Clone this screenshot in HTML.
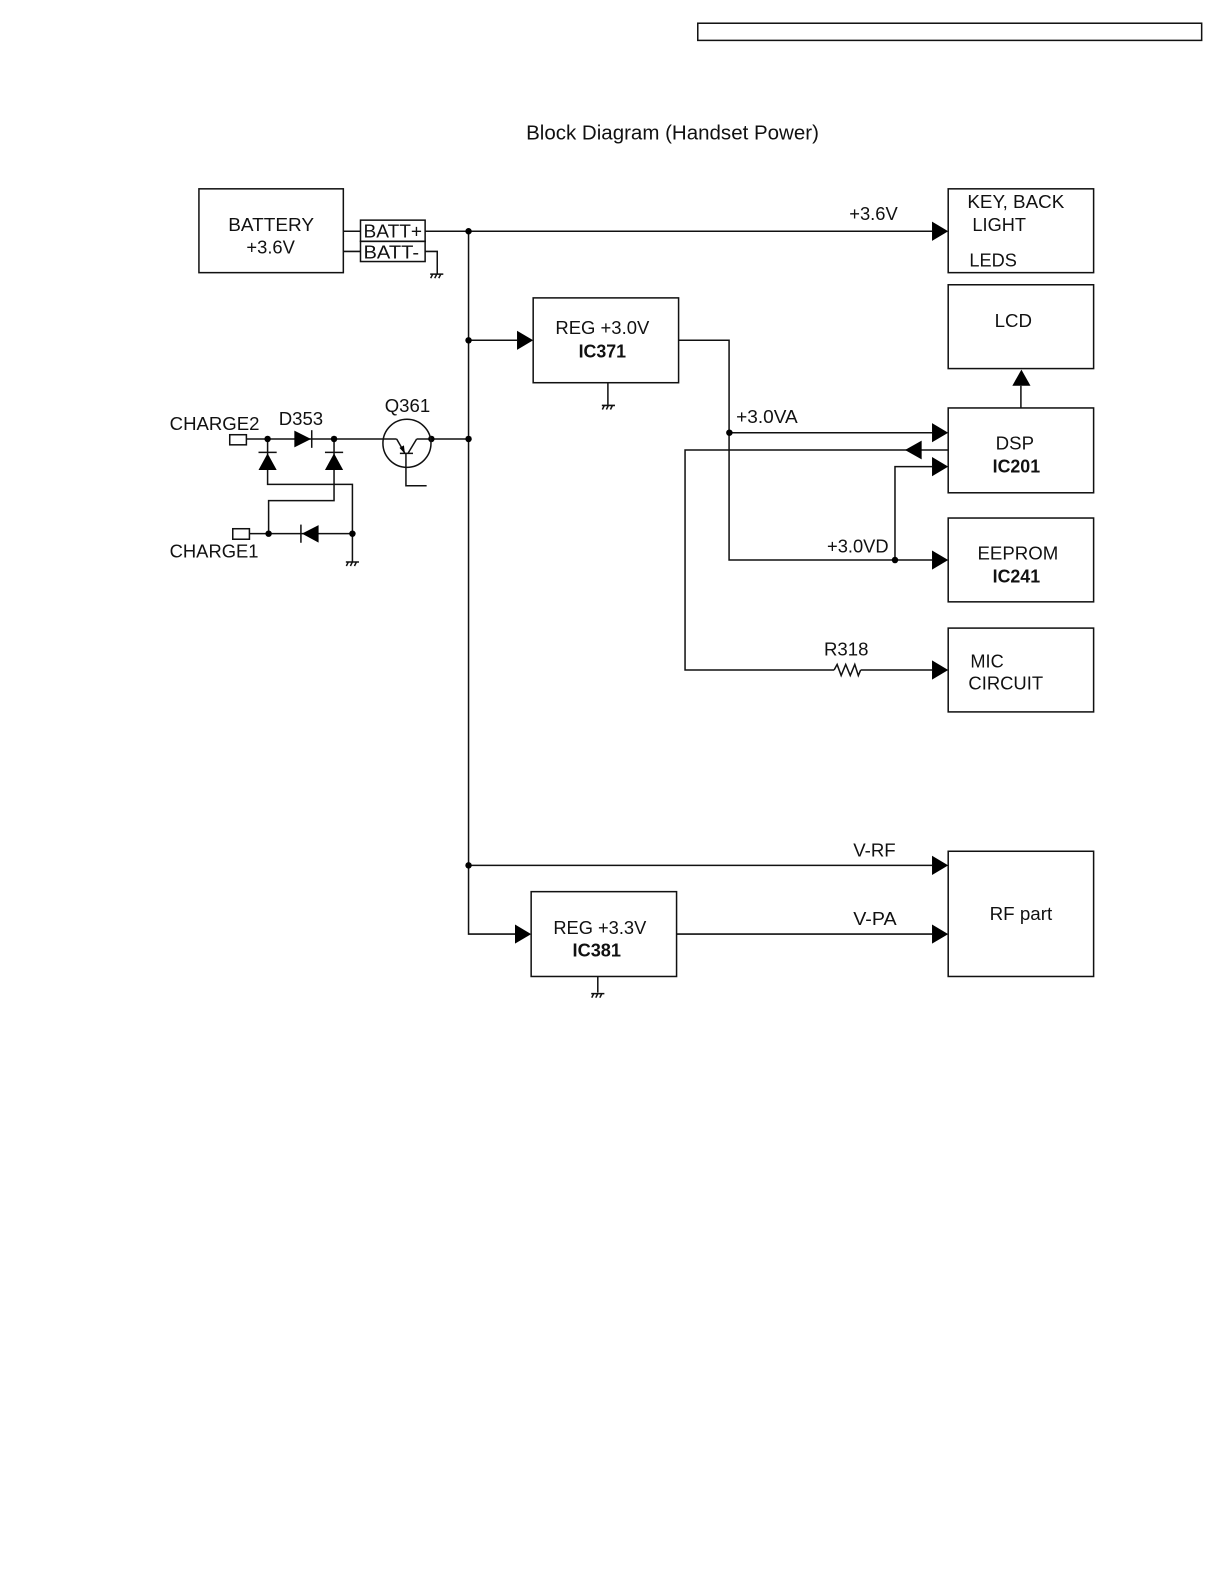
<!DOCTYPE html>
<html><head><meta charset="utf-8"><style>
html,body{margin:0;padding:0;background:#fff}
svg{display:block}
text{font-family:"Liberation Sans",Arial,sans-serif;font-size:18px;fill:#111}
.b{font-weight:bold}
.l{fill:none;stroke:#111;stroke-width:1.5}
.a{fill:#000;stroke:none}
</style></head><body>
<svg xmlns="http://www.w3.org/2000/svg" width="1224" height="1584" viewBox="0 0 1224 1584">
<defs>
<g id="g"><path class="l" d="M-6.5 0H6.5M-4 0L-6 4M0 0L-2 4M4 0L2 4"/></g>
<path id="ar" class="a" d="M-16 -9.5L0 0L-16 9.5Z"/>
<circle id="d" class="a" r="3.2"/>
</defs>
<rect width="1224" height="1584" fill="#fff"/>
<g transform="scale(1.0098)">
<rect class="l" x="691" y="23" width="499" height="17"/>
<text x="521" y="138" style="font-size:20px" textLength="290" lengthAdjust="spacingAndGlyphs">Block Diagram (Handset Power)</text>

<!-- boxes -->
<g class="l">
<rect x="197" y="187" width="143" height="83"/>
<rect x="357" y="218" width="64" height="21"/>
<rect x="357" y="239" width="64" height="20"/>
<rect x="939" y="187" width="144" height="83"/>
<rect x="939" y="282" width="144" height="83"/>
<rect x="939" y="404" width="144" height="84"/>
<rect x="939" y="513" width="144" height="83"/>
<rect x="939" y="622" width="144" height="83"/>
<rect x="939" y="843" width="144" height="124"/>
<rect x="528" y="295" width="144" height="84"/>
<rect x="526" y="883" width="144" height="84"/>
<rect x="227.5" y="430.5" width="16.5" height="10"/>
<rect x="230.5" y="523.6" width="16.5" height="10.4"/>
</g>

<!-- wires -->
<path class="l" d="M340 229H357M340 249H357M421 229H923M421 249H433V271
M464 229V925H510M464 337H512M464 857H923
M672 337H722V554.6H923M722 428.5H923M939 445.6H678.4V663.5H826M852.3 663.5H923
M886.3 554.6V462.1H923
M670 925H923
M1011 404V382
M602 379V401M592 967V983
M244 434.7H392.8M412.6 434.7H464
M265 434.7V479.7H349V556
M330.8 434.7V495.8H266V528.5
M247 528.5H349"/>
<path class="l" d="M826 663.5L829 658L833 669L837.5 658L842 669L846.5 658L850 669L852.3 663.5"/>

<!-- grounds -->
<use href="#g" x="432.5" y="271.5"/>
<use href="#g" x="602.5" y="401.5"/>
<use href="#g" x="592" y="984"/>
<use href="#g" x="349" y="556.5"/>

<!-- arrowheads -->
<use href="#ar" x="939" y="229"/>
<use href="#ar" x="528" y="337"/>
<use href="#ar" x="939" y="428.5"/>
<use href="#ar" x="939" y="462.1"/>
<use href="#ar" x="939" y="554.6"/>
<use href="#ar" x="939" y="663.5"/>
<use href="#ar" x="939" y="857"/>
<use href="#ar" x="939" y="925"/>
<use href="#ar" x="526" y="925"/>
<path class="a" d="M896.2 445.6L912.7 436.3V454.9Z"/>
<path class="a" d="M1011.5 366L1020.5 382H1002.5Z"/>

<!-- dots -->
<use href="#d" x="464" y="229"/>
<use href="#d" x="464" y="337"/>
<use href="#d" x="464" y="434.7"/>
<use href="#d" x="464" y="857"/>
<use href="#d" x="722.3" y="428.5"/>
<use href="#d" x="886.3" y="554.6"/>
<use href="#d" x="265" y="434.7"/>
<use href="#d" x="330.8" y="434.7"/>
<use href="#d" x="427.2" y="434.7"/>
<use href="#d" x="266" y="528.5"/>
<use href="#d" x="349" y="528.5"/>

<!-- diodes -->
<path class="a" d="M291.5 426.5L308 434.7L291.5 443Z"/>
<path class="l" d="M308.7 426V443.5"/>
<path class="a" d="M265 449L274 465.5H256Z"/>
<path class="l" d="M256 448H274"/>
<path class="a" d="M330.8 449L339.8 465.5H321.8Z"/>
<path class="l" d="M321.8 448H339.8"/>
<path class="a" d="M299 528.5L315.5 520V537.4Z"/>
<path class="l" d="M298 519.5V537.5"/>

<!-- transistor -->
<circle class="l" cx="403" cy="439" r="23.8"/>
<path class="l" d="M392.8 434.7L401 449M412.6 434.7L404 449M396 449H409M402 449V481H422.5"/>
<path class="a" d="M401 449.5L395.6 443.5L400 441Z"/>

<!-- labels -->
<text x="226" y="229" textLength="85" lengthAdjust="spacingAndGlyphs">BATTERY</text>
<text x="244" y="251" textLength="48" lengthAdjust="spacingAndGlyphs">+3.6V</text>
<text x="360" y="235" textLength="58" lengthAdjust="spacingAndGlyphs">BATT+</text>
<text x="360" y="256" textLength="55" lengthAdjust="spacingAndGlyphs">BATT-</text>
<text x="841" y="218" textLength="48" lengthAdjust="spacingAndGlyphs">+3.6V</text>
<text x="958" y="206" textLength="96" lengthAdjust="spacingAndGlyphs">KEY, BACK</text>
<text x="963" y="229" textLength="53" lengthAdjust="spacingAndGlyphs">LIGHT</text>
<text x="960" y="264" textLength="47" lengthAdjust="spacingAndGlyphs">LEDS</text>
<text x="985" y="324" textLength="37" lengthAdjust="spacingAndGlyphs">LCD</text>
<text x="550" y="331" textLength="93" lengthAdjust="spacingAndGlyphs">REG +3.0V</text>
<text class="b" x="573" y="354" textLength="47" lengthAdjust="spacingAndGlyphs">IC371</text>
<text x="276" y="421" textLength="44" lengthAdjust="spacingAndGlyphs">D353</text>
<text x="381" y="408" textLength="45" lengthAdjust="spacingAndGlyphs">Q361</text>
<text x="168" y="426" textLength="89" lengthAdjust="spacingAndGlyphs">CHARGE2</text>
<text x="168" y="552" textLength="88" lengthAdjust="spacingAndGlyphs">CHARGE1</text>
<text x="729" y="419" textLength="61" lengthAdjust="spacingAndGlyphs">+3.0VA</text>
<text x="986" y="445" textLength="38" lengthAdjust="spacingAndGlyphs">DSP</text>
<text class="b" x="983" y="468" textLength="47" lengthAdjust="spacingAndGlyphs">IC201</text>
<text x="819" y="547" textLength="61" lengthAdjust="spacingAndGlyphs">+3.0VD</text>
<text x="968" y="554" textLength="80" lengthAdjust="spacingAndGlyphs">EEPROM</text>
<text class="b" x="983" y="577" textLength="47" lengthAdjust="spacingAndGlyphs">IC241</text>
<text x="816" y="649" textLength="44" lengthAdjust="spacingAndGlyphs">R318</text>
<text x="961" y="661" textLength="33" lengthAdjust="spacingAndGlyphs">MIC</text>
<text x="959" y="683" textLength="74" lengthAdjust="spacingAndGlyphs">CIRCUIT</text>
<text x="845" y="848" textLength="42" lengthAdjust="spacingAndGlyphs">V-RF</text>
<text x="845" y="916" textLength="43" lengthAdjust="spacingAndGlyphs">V-PA</text>
<text x="980" y="911" textLength="62" lengthAdjust="spacingAndGlyphs">RF part</text>
<text x="548" y="925" textLength="92" lengthAdjust="spacingAndGlyphs">REG +3.3V</text>
<text class="b" x="567" y="947" textLength="48" lengthAdjust="spacingAndGlyphs">IC381</text>
</g>
</svg>
</body></html>
